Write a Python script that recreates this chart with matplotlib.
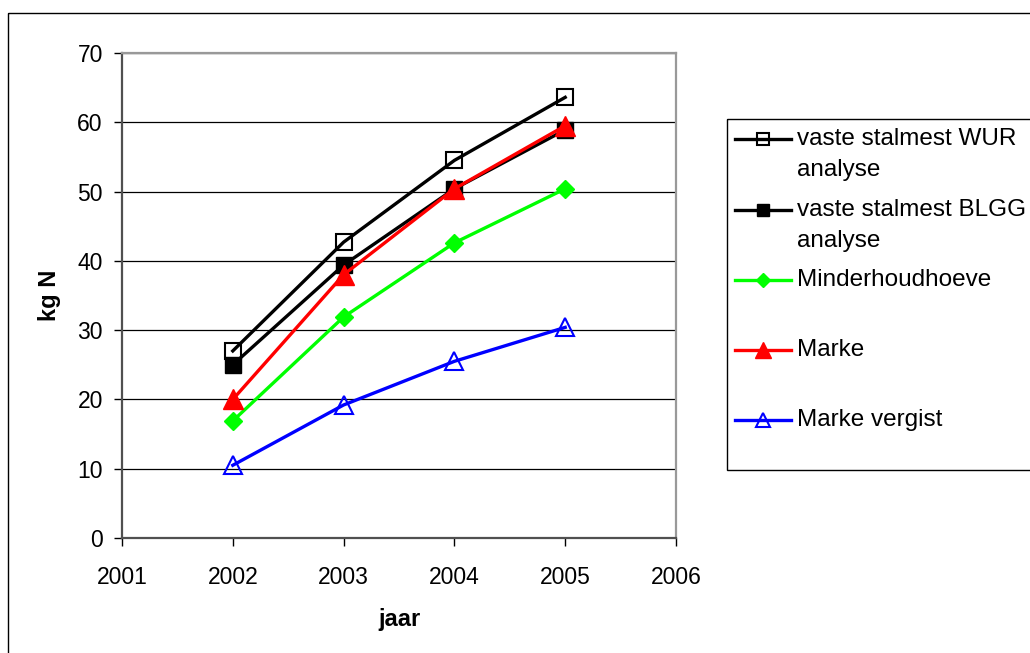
import matplotlib
matplotlib.use("Agg")
import matplotlib.pyplot as plt
from matplotlib.lines import Line2D
from matplotlib.patches import Rectangle

plt.rcParams['font.family'] = ['Liberation Sans', 'DejaVu Sans']

# Nitrogen (kg N) per year
years = [2002, 2003, 2004, 2005]
wur = [27.0, 42.7, 54.5, 63.6]
blgg = [25.0, 39.4, 50.4, 58.9]
minderhoudhoeve = [16.9, 31.9, 42.6, 50.4]
marke = [20.0, 38.0, 50.4, 59.5]
marke_vergist = [10.5, 19.2, 25.5, 30.4]

labels = ["vaste stalmest WUR\nanalyse", "vaste stalmest BLGG\nanalyse",
          "Minderhoudhoeve", "Marke", "Marke vergist"]
x_ticks = [2001, 2002, 2003, 2004, 2005, 2006]
y_ticks = [0, 10, 20, 30, 40, 50, 60, 70]

W, H = 1030, 653
fig = plt.figure(figsize=(W / 100, H / 100), dpi=100)

# overlay in pixel units for chart frame and legend
ov = fig.add_axes([0, 0, 1, 1], zorder=0)
ov.set_xlim(0, W)
ov.set_ylim(H, 0)
ov.axis('off')
ov.add_patch(Rectangle((8, 13), W + 20, H + 20, fill=False, ec='black', lw=1.0))

ax = fig.add_axes([122 / W, 1 - 538 / H, (676 - 122) / W, (538 - 53) / H], zorder=1)
ax.set_facecolor('white')

lw = 2.4
styles = [
    dict(color='black', marker='s', ms=11.5, mfc='none', mec='black', mew=1.5),
    dict(color='black', marker='s', ms=11.5, mfc='black', mec='black', mew=1.0),
    dict(color='#00FF00', marker='D', ms=9.5, mfc='#00FF00', mec='#00FF00', mew=1.0),
    dict(color='#FF0000', marker='^', ms=14, mfc='#FF0000', mec='#FF0000', mew=1.0),
    dict(color='#0000FF', marker='^', ms=13, mfc='none', mec='#0000FF', mew=1.5),
]
series = [wur, blgg, minderhoudhoeve, marke, marke_vergist]
for vals, st in zip(series, styles):
    ax.plot(years, vals, lw=lw, clip_on=False, **st)

ax.set_xlim(2001, 2006)
ax.set_ylim(0, 70)
ax.set_xticks(x_ticks)
ax.set_yticks(y_ticks)
ax.tick_params(axis='both', direction='out', length=5.8, width=1.0, color='black',
               labelsize=16.5, labelcolor='black')
ax.tick_params(axis='y', pad=8)
ax.tick_params(axis='x', pad=14)
ax.yaxis.grid(True, color='black', lw=0.9)
ax.set_axisbelow(True)
for side in ['top', 'right']:
    ax.spines[side].set_color('#999999')
    ax.spines[side].set_linewidth(1.6)
for side in ['left', 'bottom']:
    ax.spines[side].set_color('#505050')
    ax.spines[side].set_linewidth(1.6)

ax.set_ylabel('kg N', fontsize=17, fontweight='bold', labelpad=12)
ax.set_xlabel('jaar', fontsize=17, fontweight='bold', labelpad=14)

# legend
ov.add_patch(Rectangle((727, 119), W, 351, fill=False, ec='black', lw=1.0))
entry_y = [139, 210, 280, 350, 420]
for y, lab, st in zip(entry_y, labels, styles):
    ov.add_line(Line2D([735, 791], [y, y], lw=lw, color=st['color']))
    mk = {k: v for k, v in st.items() if k != 'color'}
    mk['ms'] = st['ms'] * 0.8
    ov.add_line(Line2D([763], [y], lw=0, **mk))
    lines = lab.split('\n')
    for i, t in enumerate(lines):
        ov.text(797, y + i * 31, t, fontsize=17.5, va='center', ha='left')

fig.savefig('out.png', dpi=100)
